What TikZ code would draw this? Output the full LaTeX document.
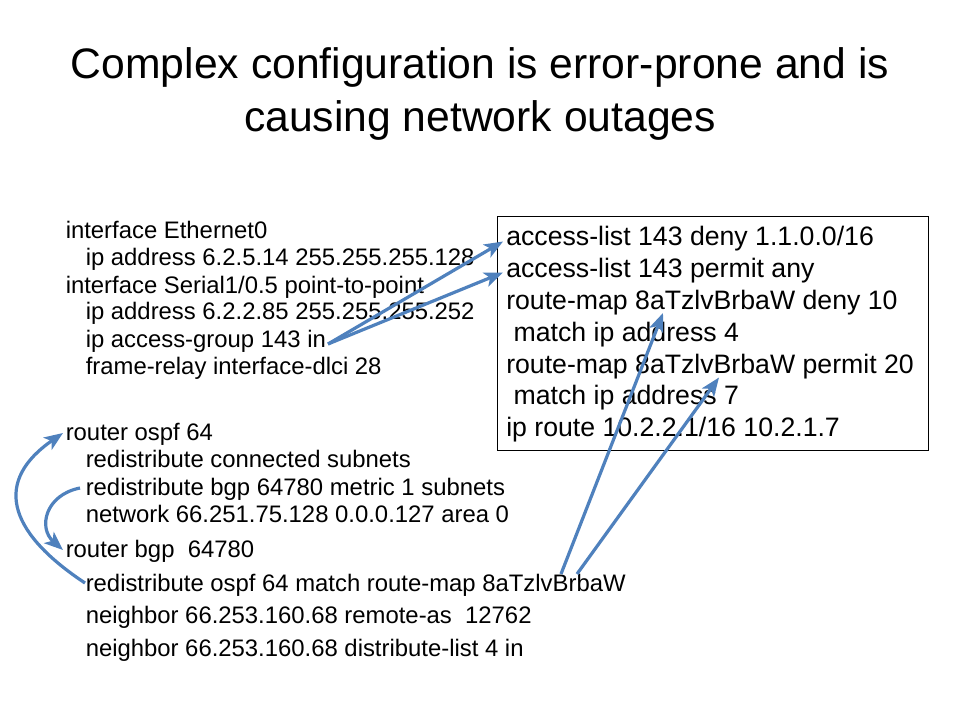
\documentclass[tikz,border=0pt]{standalone}
\usepackage{fontspec}
\setmainfont{Liberation Sans}
\usetikzlibrary{arrows.meta}
\definecolor{arrowblue}{HTML}{4F81BD}
\tikzset{
  cfgleft/.style={anchor=base west, inner sep=0pt, font=\fontsize{17.9}{20}\selectfont},
  cfgright/.style={anchor=base west, inner sep=0pt, font=\fontsize{20}{24}\selectfont},
  titletext/.style={anchor=base, inner sep=0pt, font=\fontsize{32}{38}\selectfont},
  bluearrow/.style={draw=arrowblue, line width=2.4pt, -{Stealth[length=14pt,width=11pt,inset=3.5pt]}},
  cfgbox/.style={draw=black, line width=0.75pt}
}
\begin{document}
\begin{tikzpicture}[x=0.75pt,y=-0.75pt]
\useasboundingbox[fill=white] (0,0) rectangle (960,720);
% title
\node[titletext] (title1) at (480,79) {Complex configuration is error-prone and is};
\node[titletext] (title2) at (480,131.5) {causing network outages};
% left configuration
\node[cfgleft] (l1) at (65.5,239) {interface Ethernet0};
\node[cfgleft] (l2) at (85.5,266) {ip address 6.2.5.14 255.255.255.128};
\node[cfgleft] (l3) at (65.5,293) {interface Serial1/0.5 point-to-point};
\node[cfgleft] (l4) at (85.5,320) {ip address 6.2.2.85 255.255.255.252};
\node[cfgleft] (l5) at (85.5,347) {ip access-group 143 in};
\node[cfgleft] (l6) at (85.5,374) {frame-relay interface-dlci 28};
\node[cfgleft] (l7) at (65.5,440) {router ospf 64};
\node[cfgleft] (l8) at (85.5,467.5) {redistribute connected subnets};
\node[cfgleft] (l9) at (85.5,495) {redistribute bgp 64780 metric 1 subnets};
\node[cfgleft] (l10) at (85.5,522.5) {network 66.251.75.128 0.0.0.127 area 0};
\node[cfgleft] (l11) at (65.5,557) {router bgp\ \ 64780};
\node[cfgleft] (l12) at (85.5,591) {redistribute ospf 64 match route-map 8aTzlvBrbaW};
\node[cfgleft] (l13) at (85.5,623.5) {neighbor 66.253.160.68 remote-as\ \ 12762};
\node[cfgleft] (l14) at (85.5,656) {neighbor 66.253.160.68 distribute-list 4 in};
% right box
\draw[cfgbox] (497,216.5) rectangle (928,450.7);
\node[cfgright] (r1) at (506,245.5) {access-list 143 deny 1.1.0.0/16};
\node[cfgright] (r2) at (506,277.4) {access-list 143 permit any};
\node[cfgright] (r3) at (506,309.2) {route-map 8aTzlvBrbaW deny 10};
\node[cfgright] (r4) at (506,341.1) {\ match ip address 4};
\node[cfgright] (r5) at (506,373) {route-map 8aTzlvBrbaW permit 20};
\node[cfgright] (r6) at (506,404.8) {\ match ip address 7};
\node[cfgright] (r7) at (506,436.7) {ip route 10.2.2.1/16 10.2.1.7};
% arrow end points
\coordinate (s1) at (328,344);
\coordinate (t1) at (503,241.5);
\coordinate (t2) at (503,272.5);
\coordinate (s3) at (561,574);
\coordinate (t3) at (663,313);
\coordinate (s4) at (577,574);
\coordinate (t4) at (719,377.5);
\coordinate (sa) at (85,583);
\coordinate (ta) at (63,433);
\coordinate (sb) at (80,488);
\coordinate (tb) at (63,550);
% arrows
\draw[bluearrow] (s1) -- (t1);
\draw[bluearrow] (s1) -- (t2);
\draw[bluearrow] (s3) -- (t3);
\draw[bluearrow] (s4) -- (t4);
\draw[bluearrow] (sa) .. controls (5,530) and (-5,480) .. (ta);
\draw[bluearrow] (sb) .. controls (45,495) and (38,528) .. (tb);
\end{tikzpicture}
\end{document}
